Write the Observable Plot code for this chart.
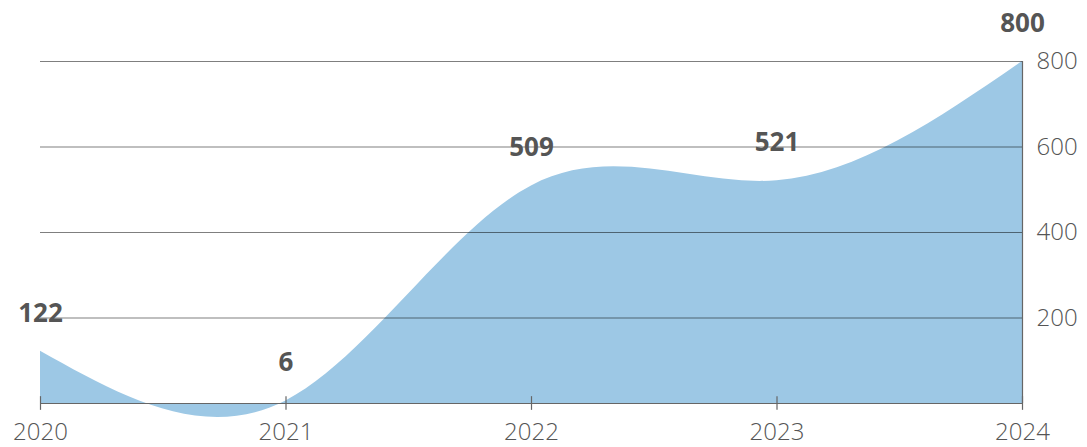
<!DOCTYPE html>
<html>
<head>
<meta charset="utf-8">
<script src="https://cdn.jsdelivr.net/npm/d3@7"></script>
<script src="https://cdn.jsdelivr.net/npm/@observablehq/plot@0.6"></script>
<style>
  html, body { margin: 0; padding: 0; background: #fff; }
  svg { overflow: visible; }
</style>
</head>
<body>
<div id="chart"></div>
<script>
const years = [2020, 2021, 2022, 2023, 2024];
const values = [122, 6, 509, 521, 800];
const yTicks = [200, 400, 600, 800];

const data = years.map((year, i) => ({year, value: values[i]}));

const chart = Plot.plot({
  width: 1087,
  height: 447,
  marginLeft: 40,
  marginRight: 65,
  marginTop: 61,
  marginBottom: 44,
  style: {fontFamily: "'Open Sans', sans-serif", background: "#fff", overflow: "visible"},
  x: {domain: [2020, 2024], label: null},
  y: {domain: [0, 800], label: null},
  marks: [
    Plot.areaY(data, {x: "year", y: "value", curve: "natural", fill: "#9dc8e5"}),
    Plot.ruleY(yTicks, {stroke: "#000", strokeOpacity: 0.5, strokeWidth: 1}),
    Plot.ruleY([0], {stroke: "#666", strokeWidth: 1.2}),
    Plot.ruleX([2024], {y1: 0, y2: 800, stroke: "#666", strokeWidth: 1.2}),
    Plot.ruleX(years, {y1: -16, y2: 16, stroke: "#666", strokeWidth: 1.2}),
    Plot.axisX(years, {tickSize: 0, tickPadding: 19, fontSize: 24, fontWeight: 300, fill: "#555", tickFormat: d => String(d), label: null}),
    Plot.axisY(yTicks, {anchor: "right", tickSize: 0, tickPadding: 14, fontSize: 24, fontWeight: 300, fill: "#555", label: null}),
    Plot.text(data, {x: "year", y: "value", text: d => String(d.value), dy: -38, fontSize: 26, fontWeight: "bold", fill: "#555"})
  ]
});
document.getElementById("chart").appendChild(chart);
</script>
</body>
</html>
